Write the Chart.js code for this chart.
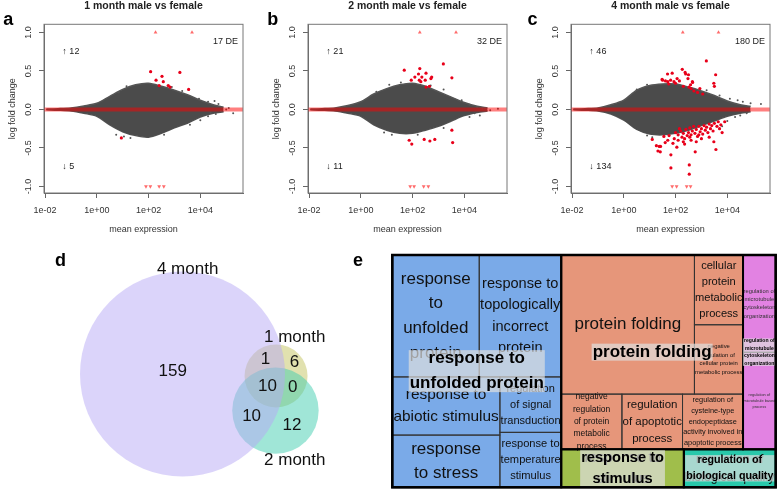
<!DOCTYPE html>
<html>
<head>
<meta charset="utf-8">
<script src="https://cdn.jsdelivr.net/npm/chart.js@4.4.1/dist/chart.umd.min.js"></script>
<style>
  html, body { margin: 0; padding: 0; background: #fff; overflow: hidden; }
  #fig { position: relative; width: 778px; height: 490px; overflow: hidden; }
  #fig canvas { position: absolute; }
</style>
</head>
<body>
<div id="fig">
  <canvas id="ma1" width="264" height="245" style="left:0;top:0"></canvas>
  <canvas id="ma2" width="264" height="245" style="left:264px;top:0"></canvas>
  <canvas id="ma3" width="264" height="245" style="left:527px;top:0"></canvas>
  <canvas id="venn" width="345" height="245" style="left:0;top:245px"></canvas>
  <canvas id="tree" width="433" height="245" style="left:345px;top:245px"></canvas>
</div>
<script>
// ---------- MA plots ----------
const xTickValues = [0.01, 1, 100, 10000];
const xTickLabels = ["1e-02", "1e+00", "1e+02", "1e+04"];
const yTickValues = [-1, -0.5, 0, 0.5, 1];
const yTickLabels = ["-1.0", "-0.5", "0.0", "0.5", "1.0"];

const panelTitles = ["1 month male vs female", "2 month male vs female", "4 month male vs female"];
const panelLetters = ["a", "b", "c"];
const upCounts = [12, 21, 46];
const downCounts = [5, 11, 134];
const deCounts = [17, 32, 180];

// outline of the dense grey cloud (log10 mean expression grid)
const cloudLogMean = [-1.95, -1.5, -1, -0.5, 0, 0.5, 1, 1.5, 2, 2.5, 3, 3.5, 4, 4.5, 4.9];
const cloudUpper1 = [0.005, 0.01, 0.02, 0.045, 0.08, 0.17, 0.26, 0.32, 0.34, 0.30, 0.25, 0.19, 0.12, 0.06, 0.03];
const cloudLower1 = [-0.005, -0.01, -0.02, -0.05, -0.09, -0.20, -0.29, -0.34, -0.36, -0.31, -0.24, -0.18, -0.10, -0.05, -0.03];
const cloudUpper2 = [0.005, 0.01, 0.02, 0.05, 0.10, 0.20, 0.27, 0.32, 0.34, 0.30, 0.23, 0.16, 0.09, 0.04, 0.02];
const cloudLower2 = [-0.005, -0.01, -0.02, -0.05, -0.09, -0.20, -0.27, -0.31, -0.31, -0.27, -0.22, -0.15, -0.08, -0.04, -0.02];
const cloudUpper3 = [0.005, 0.01, 0.02, 0.06, 0.12, 0.25, 0.31, 0.33, 0.33, 0.29, 0.24, 0.18, 0.11, 0.06, 0.04];
const cloudLower3 = [-0.005, -0.01, -0.02, -0.06, -0.14, -0.26, -0.32, -0.33, -0.31, -0.27, -0.21, -0.15, -0.09, -0.05, -0.03];

// scattered grey genes outside the dense core [log10 mean, lfc]
const grey1 = [[1.15, 0.30], [0.85, 0.22], [2.9, 0.29], [3.3, 0.24], [3.95, 0.14], [4.3, 0.10], [4.55, 0.11], [4.7, 0.07],
  [4.8, -0.02], [5.0, 0.0], [5.27, -0.05], [4.6, -0.06], [4.3, -0.09], [0.75, -0.33], [1.05, -0.35], [1.3, -0.37],
  [2.6, -0.33], [3.6, -0.2], [4.0, -0.14], [4.4, -0.04], [5.1, 0.02]];
const grey2 = [[0.6, 0.23], [1.1, 0.32], [1.55, 0.35], [2.7, 0.31], [3.2, 0.26], [3.9, 0.12], [4.2, 0.06], [4.5, 0.03],
  [4.7, 0.01], [5.0, -0.01], [5.3, 0.01], [4.4, -0.05], [4.6, -0.08], [4.2, -0.1], [0.9, -0.30], [1.2, -0.33],
  [2.2, -0.33], [3.2, -0.24], [4.8, 0.02]];
const grey3 = [[0.5, 0.26], [0.9, 0.32], [3.2, 0.25], [3.7, 0.18], [4.1, 0.14], [4.4, 0.12], [4.6, 0.10], [4.9, 0.08],
  [5.3, 0.07], [4.75, -0.05], [4.3, -0.1], [4.0, -0.15], [0.9, -0.34], [1.1, -0.36], [3.8, -0.22], [4.5, -0.08]];

// DE genes [log10 mean, lfc]
const red1 = [[2.08, 0.49], [2.29, 0.38], [2.52, 0.43], [2.57, 0.36], [2.41, 0.31], [2.76, 0.31], [2.83, 0.29],
  [3.21, 0.48], [3.55, 0.26], [0.95, -0.37]];
const red2 = [[1.68, 0.51], [1.95, 0.38], [2.09, 0.42], [2.23, 0.46], [2.28, 0.53], [2.26, 0.38], [2.36, 0.42],
  [2.32, 0.36], [2.52, 0.47], [2.49, 0.38], [2.74, 0.42], [2.71, 0.40], [2.65, 0.30], [2.52, 0.29], [3.19, 0.59],
  [3.52, 0.41], [3.52, -0.27], [3.55, -0.43], [1.87, -0.40], [1.97, -0.45], [2.45, -0.39], [2.67, -0.41], [2.86, -0.39]];
const red3 = [[3.19, 0.63], [3.55, 0.45], [3.48, 0.34], [2.26, 0.52], [2.37, 0.48], [2.50, 0.45], [1.87, 0.47],
  [1.69, 0.46], [1.48, 0.39], [1.50, 0.38], [1.61, 0.37], [1.70, 0.36], [1.81, 0.38], [1.94, 0.36], [2.06, 0.40],
  [2.15, 0.37], [1.74, 0.33], [2.00, 0.34], [2.39, 0.46], [2.48, 0.40], [2.58, 0.32], [2.65, 0.36], [2.66, 0.35],
  [2.30, 0.30], [2.52, 0.29], [2.71, 0.24], [2.94, 0.27], [2.85, 0.22], [3.05, 0.20], [2.60, 0.27], [3.5, 0.30],
  [1.26, -0.47], [1.32, -0.54], [1.42, -0.48], [1.37, -0.48], [1.41, -0.55], [1.82, -0.59], [1.82, -0.76],
  [2.05, -0.49], [2.53, -0.72], [2.53, -0.84], [2.76, -0.55], [3.56, -0.52], [3.48, -0.42], [1.10, -0.39],
  [1.6, -0.43], [1.9, -0.44], [2.1, -0.40], [2.3, -0.42], [2.35, -0.45], [2.0, -0.30], [2.1, -0.33], [2.2, -0.28],
  [2.25, -0.36], [2.3, -0.31], [2.4, -0.26], [2.45, -0.34], [2.5, -0.30], [2.55, -0.24], [2.6, -0.33], [2.65, -0.28],
  [2.7, -0.22], [2.75, -0.31], [2.8, -0.26], [2.85, -0.35], [2.9, -0.22], [2.95, -0.29], [3.0, -0.25], [3.05, -0.32],
  [3.1, -0.21], [3.15, -0.27], [3.2, -0.23], [3.25, -0.30], [3.3, -0.19], [3.35, -0.25], [3.4, -0.21], [3.45, -0.28],
  [3.5, -0.18], [3.6, -0.22], [3.65, -0.16], [3.7, -0.25], [3.75, -0.2], [3.8, -0.3], [2.35, -0.38], [2.6, -0.40],
  [2.8, -0.42], [3.0, -0.38], [2.15, -0.25], [1.95, -0.38], [1.75, -0.34], [1.55, -0.35], [3.9, -0.16], [2.9, -0.33],
  [2.55, -0.36], [3.3, -0.36], [1.7, -0.4]];

// genes beyond the +-1 limit (log10 mean), drawn as triangles on the limit
const capUp1 = [2.27, 3.68], capDown1 = [1.90, 2.07, 2.41, 2.59];
const capUp2 = [2.28, 3.68], capDown2 = [1.91, 2.06, 2.43, 2.61];
const capUp3 = [2.28, 3.66], capDown3 = [1.87, 2.04, 2.43, 2.58];

// ---------- Venn ----------
const vennSets = ["4 month", "1 month", "2 month"];
const vennSetSizes = [180, 17, 32];
const vennPairOverlaps = [11, 20, 10]; // 4&1, 4&2, 1&2
const vennRegionMasks = [[1, 0, 0], [0, 1, 0], [0, 0, 1], [1, 1, 0], [1, 0, 1], [0, 1, 1], [1, 1, 1]];
const vennRegionCounts = [159, 6, 12, 1, 10, 0, 10];

// ---------- Treemap (REVIGO) ----------
const tmGroups = ["response to\nunfolded protein", "protein folding",
  "regulation of\nmicrotubule\ncytoskeleton\norganization", "response to\nstimulus",
  "regulation of\nbiological quality"];
const tmTerms = [
  "response\nto\nunfolded\nprotein",
  "response to\ntopologically\nincorrect\nprotein",
  "response to\nabiotic stimulus",
  "response\nto stress",
  "regulation\nof signal\ntransduction",
  "response to\ntemperature\nstimulus",
  "protein folding",
  "cellular\nprotein\nmetabolic\nprocess",
  "negative\nregulation of\ncellular protein\nmetabolic process",
  "negative\nregulation\nof protein\nmetabolic\nprocess",
  "regulation\nof apoptotic\nprocess",
  "regulation of\ncysteine-type\nendopeptidase\nactivity involved in\napoptotic process",
  "regulation of\nmicrotubule\ncytoskeleton\norganization",
  "regulation of\nmicrotubule based\nprocess",
  "response to\nstimulus",
  "regulation of\nbiological quality"];
const tmTermGroup = [0, 0, 0, 0, 0, 0, 1, 1, 1, 1, 1, 1, 2, 2, 3, 4];
const tmTermSize = [10600, 10000, 6260, 5620, 3400, 3370, 18530, 3390, 3370, 3350, 3345, 3340, 3180, 3170, 4660, 3490];

// ---------- styles ----------
const FONT = '"Liberation Sans", Arial, Helvetica, sans-serif';
const tmColors = ["#7aaae8", "#e6967a", "#e282e2", "#a0be4b", "#28c8aa"];
const vennColors = ["rgba(183,170,245,0.5)", "rgba(195,195,95,0.5)", "rgba(65,205,175,0.5)"];
const vennDrawOrder = [1, 2, 0];
const vennLabelAngle = [2.8, 26, 158.7];   // degrees clockwise from top
const vennLabelGap = [2.3, 11, 10];        // px beyond the circle
const vennCenterPx = [182.5, 129];
const vennRadiusPx = 102.5;
const vennRotationDeg = -1.2;   // direction of "1 month" seen from "4 month"
const vennThirdDirDeg = -91;    // direction of "2 month" seen from "1 month"

const maDecor = {
  id: "maDecor",
  afterDraw(chart, args, o) {
    const { ctx, chartArea: a } = chart;
    const x = chart.scales.x, y = chart.scales.y;
    ctx.save();
    ctx.strokeStyle = "#777";
    ctx.lineWidth = 1;
    ctx.strokeRect(a.left, a.top, a.right - a.left, a.bottom - a.top);
    ctx.fillStyle = "#333";
    ctx.font = "9px " + FONT;
    ctx.textAlign = "center";
    ctx.textBaseline = "middle";
    yTickValues.forEach((v, k) => {
      ctx.save();
      ctx.translate(a.left - 15, y.getPixelForValue(v));
      ctx.rotate(-Math.PI / 2);
      ctx.fillText(yTickLabels[k], 0, 0);
      ctx.restore();
    });
    ctx.fillStyle = "#222";
    ctx.textAlign = "left";
    ctx.fillText("\u2191 " + o.up, x.getPixelForValue(10 ** -1.33), y.getPixelForValue(0.75));
    ctx.fillText("\u2193 " + o.down, x.getPixelForValue(10 ** -1.33), y.getPixelForValue(-0.74));
    ctx.textAlign = "right";
    ctx.fillText(o.de + " DE", x.getPixelForValue(10 ** 5.46), y.getPixelForValue(0.88));
    ctx.fillStyle = "#000";
    ctx.textAlign = "left";
    ctx.textBaseline = "alphabetic";
    ctx.font = "bold 18px " + FONT;
    ctx.fillText(o.letter, o.letterX, 25);
    ctx.restore();
  }
};

function toPts(pairs) {
  return pairs.map(p => ({ x: 10 ** p[0], y: p[1] }));
}

function makeMA(id, i, upper, lower, grey, red, capUp, capDown) {
  const xMin = 10 ** -2.04, xMax = 10 ** 5.65;
  const axisFont = { family: FONT, size: 9 };
  new Chart(document.getElementById(id), {
    type: "scatter",
    data: {
      datasets: [
        { type: "line", data: cloudLogMean.map((lx, k) => ({ x: 10 ** lx, y: upper[k] })),
          fill: "+1", backgroundColor: "#4b4b4b", borderColor: "#555", borderWidth: 1.5,
          pointRadius: 0, tension: 0.3, order: 6 },
        { type: "line", data: cloudLogMean.map((lx, k) => ({ x: 10 ** lx, y: lower[k] })),
          fill: false, borderColor: "#555", borderWidth: 1.5, pointRadius: 0, tension: 0.3, order: 6 },
        { data: toPts(grey), backgroundColor: "#555", borderWidth: 0, pointRadius: 1, order: 5 },
        { type: "line", data: [{ x: xMin, y: 0 }, { x: xMax, y: 0 }], borderColor: "rgba(255,0,0,0.5)",
          borderWidth: 4, pointRadius: 0, fill: false, clip: 0, order: 4 },
        { data: toPts(red), backgroundColor: "#e8001a", borderWidth: 0, pointRadius: 1.6, order: 2 },
        { data: capUp.map(v => ({ x: 10 ** v, y: 1 })), pointStyle: "triangle", pointRadius: 2.2,
          backgroundColor: "rgba(255,70,70,0.8)", borderWidth: 0, order: 1 },
        { data: capDown.map(v => ({ x: 10 ** v, y: -1 })), pointStyle: "triangle", rotation: 180,
          pointRadius: 2.2, backgroundColor: "rgba(255,70,70,0.8)", borderWidth: 0, order: 1 }
      ]
    },
    options: {
      responsive: false,
      animation: false,
      events: [],
      devicePixelRatio: 1,
      layout: { padding: { left: 0, right: 21, top: 0, bottom: 0 } },
      plugins: {
        legend: { display: false },
        tooltip: { enabled: false },
        title: { display: true, text: panelTitles[i], fullSize: false, color: "#222",
          font: { family: FONT, size: 10.5, weight: "bold" }, padding: { top: 0, bottom: 11.7 } },
        maDecor: { up: upCounts[i], down: downCounts[i], de: deCounts[i], letter: panelLetters[i],
          letterX: i === 2 ? 0.5 : 3.3 }
      },
      scales: {
        x: {
          type: "logarithmic", min: xMin, max: xMax,
          afterBuildTicks: s => { s.ticks = xTickValues.map(v => ({ value: v })); },
          ticks: { callback: (v, k) => xTickLabels[k], color: "#333", font: axisFont, padding: 7,
            maxRotation: 0, autoSkip: false },
          grid: { drawOnChartArea: false, drawTicks: true, tickLength: 5, color: "#666" },
          border: { display: true, color: "#666" },
          title: { display: true, text: "mean expression", color: "#333", font: axisFont,
            padding: { top: 0, bottom: 9.6 } },
          afterFit: s => { s.height = 52; }
        },
        y: {
          type: "linear", min: -1.085, max: 1.105,
          afterBuildTicks: s => { s.ticks = yTickValues.map(v => ({ value: v })); },
          ticks: { display: false },
          grid: { drawOnChartArea: false, drawTicks: true, tickLength: 5, color: "#666" },
          border: { display: true, color: "#666" },
          title: { display: true, text: "log fold change", color: "#333", font: axisFont,
            padding: { top: 7.6, bottom: 0 } },
          afterFit: s => { s.width = 44; }
        }
      }
    },
    plugins: [maDecor]
  });
}

makeMA("ma1", 0, cloudUpper1, cloudLower1, grey1, red1, capUp1, capDown1);
makeMA("ma2", 1, cloudUpper2, cloudLower2, grey2, red2, capUp2, capDown2);
makeMA("ma3", 2, cloudUpper3, cloudLower3, grey3, red3, capUp3, capDown3);

// ---------- Venn: circles sized by set size ----------
function lensArea(r1, r2, d) {
  if (d >= r1 + r2) return 0;
  if (d <= Math.abs(r1 - r2)) return Math.PI * Math.min(r1, r2) ** 2;
  const a = r1 * r1 * Math.acos((d * d + r1 * r1 - r2 * r2) / (2 * d * r1));
  const b = r2 * r2 * Math.acos((d * d + r2 * r2 - r1 * r1) / (2 * d * r2));
  const c = 0.5 * Math.sqrt((-d + r1 + r2) * (d + r1 - r2) * (d - r1 + r2) * (d + r1 + r2));
  return a + b - c;
}
function solveDist(r1, r2, area) {
  let lo = Math.abs(r1 - r2), hi = r1 + r2;
  for (let k = 0; k < 60; k++) {
    const mid = (lo + hi) / 2;
    if (lensArea(r1, r2, mid) > area) lo = mid; else hi = mid;
  }
  return (lo + hi) / 2;
}
const vR = vennSetSizes.map(n => Math.sqrt(n / Math.PI));
const dAB = solveDist(vR[0], vR[1], vennPairOverlaps[0]);
const dBC = solveDist(vR[1], vR[2], vennPairOverlaps[2]);
const rot = vennRotationDeg * Math.PI / 180;
const rot2 = vennThirdDirDeg * Math.PI / 180;
const vB = { x: dAB * Math.cos(rot), y: dAB * Math.sin(rot) };
const vC = [
  { x: 0, y: 0 },
  vB,
  { x: vB.x + dBC * Math.cos(rot2), y: vB.y + dBC * Math.sin(rot2) }
];

// region label positions: centroid of each region on a fine grid
const regionPos = vennRegionMasks.map(() => ({ x: 0, y: 0, n: 0 }));
for (let gx = -vR[0]; gx <= vC[2].x + vR[2]; gx += 0.04) {
  for (let gy = -vR[0]; gy <= vR[0]; gy += 0.04) {
    const m = vC.map((c, i) => ((gx - c.x) ** 2 + (gy - c.y) ** 2 <= vR[i] ** 2 ? 1 : 0));
    const idx = vennRegionMasks.findIndex(r => r[0] === m[0] && r[1] === m[1] && r[2] === m[2]);
    if (idx >= 0) { regionPos[idx].x += gx; regionPos[idx].y += gy; regionPos[idx].n++; }
  }
}
regionPos.forEach(p => { p.x /= p.n; p.y /= p.n; });

const vk = vennRadiusPx / vR[0];
const vennText = {
  id: "vennText",
  afterDatasetsDraw(chart) {
    const { ctx } = chart;
    const x = chart.scales.x, y = chart.scales.y;
    ctx.save();
    ctx.fillStyle = "#111";
    ctx.font = "17px " + FONT;
    ctx.textAlign = "center";
    ctx.textBaseline = "middle";
    regionPos.forEach((p, i) => {
      ctx.fillText(String(vennRegionCounts[i]), x.getPixelForValue(p.x), y.getPixelForValue(p.y));
    });
    vennSets.forEach((name, i) => {
      const ang = vennLabelAngle[i] * Math.PI / 180;
      const dist = vR[i] + vennLabelGap[i] / vk;
      ctx.fillText(name, x.getPixelForValue(vC[i].x + dist * Math.sin(ang)),
        y.getPixelForValue(vC[i].y + dist * Math.cos(ang)));
    });
    ctx.fillStyle = "#000";
    ctx.font = "bold 18px " + FONT;
    ctx.textAlign = "left";
    ctx.textBaseline = "alphabetic";
    ctx.fillText("d", 55, 20.7);
    ctx.restore();
  }
};

new Chart(document.getElementById("venn"), {
  type: "scatter",
  data: {
    datasets: [{
      data: vennDrawOrder.map(i => ({ x: vC[i].x, y: vC[i].y, r: vR[i] })),
      backgroundColor: vennDrawOrder.map(i => vennColors[i]),
      borderWidth: 0,
      pointRadius: ctx => {
        const s = ctx.chart.scales.x;
        return s.getPixelForValue(ctx.raw.r) - s.getPixelForValue(0);
      }
    }]
  },
  options: {
    responsive: false, animation: false, events: [], devicePixelRatio: 1,
    plugins: { legend: { display: false }, tooltip: { enabled: false } },
    scales: {
      x: { type: "linear", display: false, min: -vennCenterPx[0] / vk, max: (345 - vennCenterPx[0]) / vk },
      y: { type: "linear", display: false, min: -(245 - vennCenterPx[1]) / vk, max: vennCenterPx[1] / vk }
    }
  },
  plugins: [vennText]
});

// ---------- Treemap: pivot-by-size layout ----------
function sumSize(list) { return list.reduce((s, d) => s + d.size, 0); }
function pivotLayout(items, x, y, w, h, out) {
  if (!items.length) return;
  if (items.length === 1) { out.push({ item: items[0], x, y, w, h }); return; }
  const total = sumSize(items);
  const pivot = items[0], rest = items.slice(1);
  const horiz = w >= h;
  let best = 0, bestAR = Infinity;
  for (let k = 0; k <= rest.length; k++) {
    const s2 = sumSize(rest.slice(0, k));
    const frac = (pivot.size + s2) / total, pf = pivot.size / (pivot.size + s2);
    const pw = horiz ? w * frac : w * pf;
    const ph = horiz ? h * pf : h * frac;
    const ar = Math.max(pw / ph, ph / pw);
    if (ar < bestAR - 1e-9) { bestAR = ar; best = k; }
  }
  const L2 = rest.slice(0, best), L3 = rest.slice(best);
  const s2 = sumSize(L2);
  const frac = (pivot.size + s2) / total, pf = pivot.size / (pivot.size + s2);
  if (horiz) {
    const cw = w * frac, ph = h * pf;
    out.push({ item: pivot, x, y, w: cw, h: ph });
    pivotLayout(L2, x, y + ph, cw, h - ph, out);
    pivotLayout(L3, x + cw, y, w - cw, h, out);
  } else {
    const rh = h * frac, pw = w * pf;
    out.push({ item: pivot, x, y, w: pw, h: rh });
    pivotLayout(L2, x + pw, y, w - pw, rh, out);
    pivotLayout(L3, x, y + rh, w, h - rh, out);
  }
}

function fitFont(ctx, lines, w, h, weight, maxSize, wf, hf) {
  ctx.font = weight + " 100px " + FONT;
  const mw = Math.max(...lines.map(l => ctx.measureText(l).width)) / 100;
  return Math.min(maxSize, wf * w / mw, h / (hf * lines.length));
}

const treemapDraw = {
  id: "treemapDraw",
  afterDatasetsDraw(chart) {
    const { ctx, chartArea: a } = chart;
    const xs = chart.scales.x, ys = chart.scales.y;
    const W = a.right - a.left, H = a.bottom - a.top;
    const groups = tmGroups.map((g, gi) => {
      const cells = tmTerms.map((t, ti) => ({ term: t, size: tmTermSize[ti], g: tmTermGroup[ti] }))
        .filter(c => c.g === gi).sort((p, q) => q.size - p.size);
      return { label: g, gi, size: sumSize(cells), cells };
    }).sort((p, q) => q.size - p.size);
    const gRects = [];
    pivotLayout(groups, 0, 0, W, H, gRects);
    const px = r => ({
      l: xs.getPixelForValue(r.x / W), t: ys.getPixelForValue(r.y / H),
      r: xs.getPixelForValue((r.x + r.w) / W), b: ys.getPixelForValue((r.y + r.h) / H)
    });
    const cRects = [];
    gRects.forEach(gr => {
      const out = [];
      pivotLayout(gr.item.cells, gr.x, gr.y, gr.w, gr.h, out);
      out.forEach(c => cRects.push(c));
    });
    ctx.save();
    cRects.forEach(c => {
      const p = px(c);
      ctx.fillStyle = tmColors[c.item.g];
      ctx.fillRect(p.l, p.t, p.r - p.l, p.b - p.t);
    });
    ctx.strokeStyle = "#333";
    ctx.lineWidth = 1;
    cRects.forEach(c => {
      const p = px(c);
      ctx.strokeRect(p.l, p.t, p.r - p.l, p.b - p.t);
    });
    ctx.textAlign = "center";
    ctx.textBaseline = "middle";
    cRects.forEach(c => {
      const p = px(c);
      const lines = c.item.term.split("\n");
      const w = p.r - p.l, h = p.b - p.t;
      const fs = fitFont(ctx, lines, w, h, "normal", 17, 0.98, 1.3);
      const sp = fs * 1.45;
      ctx.font = fs + "px " + FONT;
      ctx.fillStyle = c.item.g === 2 ? "#333" : "#111";
      const cx = (p.l + p.r) / 2, cy = (p.t + p.b) / 2;
      lines.forEach((l, k) => ctx.fillText(l, cx, cy + (k - (lines.length - 1) / 2) * sp));
    });
    ctx.strokeStyle = "#000";
    ctx.lineWidth = 2;
    gRects.forEach(g => {
      const p = px(g);
      ctx.strokeRect(p.l, p.t, p.r - p.l, p.b - p.t);
    });
    gRects.forEach(g => {
      const p = px(g);
      const lines = g.item.label.split("\n");
      const w = p.r - p.l, h = p.b - p.t;
      const fs = fitFont(ctx, lines, w, h, "bold", 17, 0.95, 1.3);
      const sp = fs * 1.47;
      ctx.font = "bold " + fs + "px " + FONT;
      const mw = Math.max(...lines.map(l => ctx.measureText(l).width));
      const bh = (lines.length - 1) * sp + fs;
      const cx = (p.l + p.r) / 2, cy = (p.t + p.b) / 2;
      ctx.fillStyle = "rgba(222,222,222,0.7)";
      ctx.fillRect(cx - mw / 2 - 1, cy - bh / 2, mw + 2, bh);
      ctx.fillStyle = "#000";
      lines.forEach((l, k) => ctx.fillText(l, cx, cy + (k - (lines.length - 1) / 2) * sp));
    });
    ctx.lineWidth = 2.5;
    ctx.strokeRect(a.left, a.top, W, H);
    ctx.font = "bold 18px " + FONT;
    ctx.textAlign = "left";
    ctx.textBaseline = "alphabetic";
    ctx.fillText("e", 8, 20.5);
    ctx.restore();
  }
};

new Chart(document.getElementById("tree"), {
  type: "scatter",
  data: { datasets: [] },
  options: {
    responsive: false, animation: false, events: [], devicePixelRatio: 1,
    layout: { padding: { left: 47.3, right: 2.3, top: 10, bottom: 2.7 } },
    plugins: { legend: { display: false }, tooltip: { enabled: false } },
    scales: {
      x: { type: "linear", display: false, min: 0, max: 1 },
      y: { type: "linear", display: false, min: 0, max: 1, reverse: true }
    }
  },
  plugins: [treemapDraw]
});
</script>
</body>
</html>
